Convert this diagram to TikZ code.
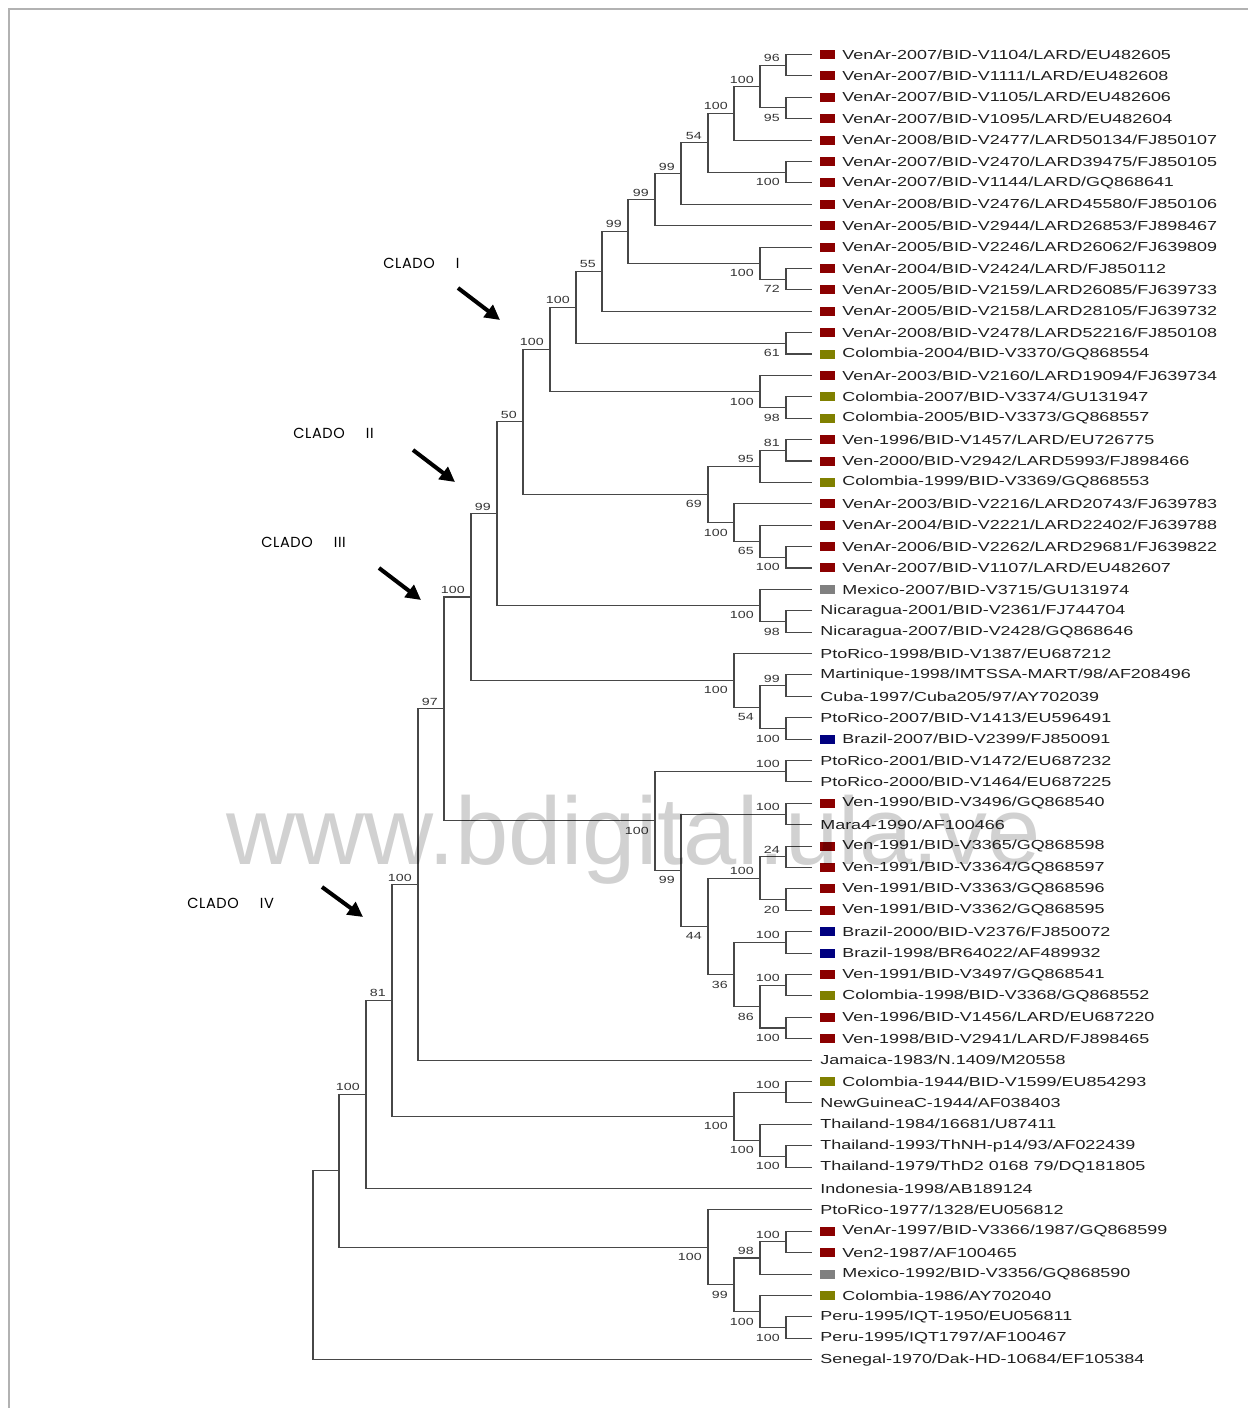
\documentclass[tikz,border=0pt]{standalone}
\usepackage{fontspec}
\setmainfont{Liberation Sans}
\newfontfamily\widesans[FakeStretch=1.37]{Liberation Sans}
\newfontfamily\cladofont[LetterSpace=4]{Poppins}
\usetikzlibrary{arrows.meta}
\definecolor{venred}{RGB}{139,0,0}
\definecolor{cololive}{RGB}{128,128,0}
\definecolor{mexgray}{RGB}{128,128,128}
\definecolor{brablue}{RGB}{0,0,128}
\newcommand{\leaffont}{\widesans\fontsize{7.45}{9}\selectfont}
\newcommand{\bootfont}{\widesans\fontsize{5.9}{7}\selectfont}

\begin{document}
\begin{tikzpicture}[
  x=0.02cm, y=-0.02cm,
  branch/.style={draw=black!72,line width=0.6pt},
  bootup/.style={anchor=east,xshift=-0.12cm,yshift=0.14cm,font=\bootfont,text=black!80,inner sep=0pt},
  bootdn/.style={anchor=east,xshift=-0.12cm,yshift=-0.2cm,font=\bootfont,text=black!80,inner sep=0pt},
  taxon/.style={anchor=west,font=\leaffont,text=black!88,inner sep=0pt},
  sq r/.style={fill=venred}, sq o/.style={fill=cololive},
  sq g/.style={fill=mexgray}, sq b/.style={fill=brablue}, sq n/.style={},
  tx r/.style={xshift=0.6cm}, tx o/.style={xshift=0.6cm},
  tx g/.style={xshift=0.6cm}, tx b/.style={xshift=0.6cm}, tx n/.style={xshift=0.16cm},
  clado/.style={anchor=west,font=\cladofont\fontsize{8.3}{10}\selectfont,inner sep=0pt},
  pointer/.style={-{Triangle[length=0.3cm,width=0.3cm]},line width=2.3pt}
]
\useasboundingbox (0,0) rectangle (1248,1408);
\draw[black!30,line width=1.4pt] (9,1408) -- (9,9) -- (1248,9);

\begin{scope}[y=-0.428cm,yshift=-0.662cm]
% taxa
\foreach \t/\c [count=\i] in {
  {VenAr-2007/BID-V1104/LARD/EU482605}/r,
  {VenAr-2007/BID-V1111/LARD/EU482608}/r,
  {VenAr-2007/BID-V1105/LARD/EU482606}/r,
  {VenAr-2007/BID-V1095/LARD/EU482604}/r,
  {VenAr-2008/BID-V2477/LARD50134/FJ850107}/r,
  {VenAr-2007/BID-V2470/LARD39475/FJ850105}/r,
  {VenAr-2007/BID-V1144/LARD/GQ868641}/r,
  {VenAr-2008/BID-V2476/LARD45580/FJ850106}/r,
  {VenAr-2005/BID-V2944/LARD26853/FJ898467}/r,
  {VenAr-2005/BID-V2246/LARD26062/FJ639809}/r,
  {VenAr-2004/BID-V2424/LARD/FJ850112}/r,
  {VenAr-2005/BID-V2159/LARD26085/FJ639733}/r,
  {VenAr-2005/BID-V2158/LARD28105/FJ639732}/r,
  {VenAr-2008/BID-V2478/LARD52216/FJ850108}/r,
  {Colombia-2004/BID-V3370/GQ868554}/o,
  {VenAr-2003/BID-V2160/LARD19094/FJ639734}/r,
  {Colombia-2007/BID-V3374/GU131947}/o,
  {Colombia-2005/BID-V3373/GQ868557}/o,
  {Ven-1996/BID-V1457/LARD/EU726775}/r,
  {Ven-2000/BID-V2942/LARD5993/FJ898466}/r,
  {Colombia-1999/BID-V3369/GQ868553}/o,
  {VenAr-2003/BID-V2216/LARD20743/FJ639783}/r,
  {VenAr-2004/BID-V2221/LARD22402/FJ639788}/r,
  {VenAr-2006/BID-V2262/LARD29681/FJ639822}/r,
  {VenAr-2007/BID-V1107/LARD/EU482607}/r,
  {Mexico-2007/BID-V3715/GU131974}/g,
  {Nicaragua-2001/BID-V2361/FJ744704}/n,
  {Nicaragua-2007/BID-V2428/GQ868646}/n,
  {PtoRico-1998/BID-V1387/EU687212}/n,
  {Martinique-1998/IMTSSA-MART/98/AF208496}/n,
  {Cuba-1997/Cuba205/97/AY702039}/n,
  {PtoRico-2007/BID-V1413/EU596491}/n,
  {Brazil-2007/BID-V2399/FJ850091}/b,
  {PtoRico-2001/BID-V1472/EU687232}/n,
  {PtoRico-2000/BID-V1464/EU687225}/n,
  {Ven-1990/BID-V3496/GQ868540}/r,
  {Mara4-1990/AF100466}/n,
  {Ven-1991/BID-V3365/GQ868598}/r,
  {Ven-1991/BID-V3364/GQ868597}/r,
  {Ven-1991/BID-V3363/GQ868596}/r,
  {Ven-1991/BID-V3362/GQ868595}/r,
  {Brazil-2000/BID-V2376/FJ850072}/b,
  {Brazil-1998/BR64022/AF489932}/b,
  {Ven-1991/BID-V3497/GQ868541}/r,
  {Colombia-1998/BID-V3368/GQ868552}/o,
  {Ven-1996/BID-V1456/LARD/EU687220}/r,
  {Ven-1998/BID-V2941/LARD/FJ898465}/r,
  {Jamaica-1983/N.1409/M20558}/n,
  {Colombia-1944/BID-V1599/EU854293}/o,
  {NewGuineaC-1944/AF038403}/n,
  {Thailand-1984/16681/U87411}/n,
  {Thailand-1993/ThNH-p14/93/AF022439}/n,
  {Thailand-1979/ThD2 0168 79/DQ181805}/n,
  {Indonesia-1998/AB189124}/n,
  {PtoRico-1977/1328/EU056812}/n,
  {VenAr-1997/BID-V3366/1987/GQ868599}/r,
  {Ven2-1987/AF100465}/r,
  {Mexico-1992/BID-V3356/GQ868590}/g,
  {Colombia-1986/AY702040}/o,
  {Peru-1995/IQT-1950/EU056811}/n,
  {Peru-1995/IQT1797/AF100467}/n,
  {Senegal-1970/Dak-HD-10684/EF105384}/n}{
  \coordinate (L\i) at (812,\i);
  \path[sq \c] ([xshift=0.16cm,yshift=-0.09cm]L\i) rectangle ++(0.3cm,0.18cm);
  \node[taxon,tx \c] (T\i) at (L\i) {\t};
}

% clado I
\path (786,1.5) coordinate (a1) node[bootup] (s-a1) {96};
\path (786,3.5) coordinate (a2) node[bootdn] (s-a2) {95};
\path (760,2.5) coordinate (a3) node[bootup] (s-a3) {100};
\path (734,3.75) coordinate (a4) node[bootup] (s-a4) {100};
\path (786,6.5) coordinate (a5) node[bootdn] (s-a5) {100};
\path (708,5.125) coordinate (a6) node[bootup] (s-a6) {54};
\path (681,6.5625) coordinate (a7) node[bootup] (s-a7) {99};
\path (655,7.7813) coordinate (a8) node[bootup] (s-a8) {99};
\path (786,11.5) coordinate (a9) node[bootdn] (s-a9) {72};
\path (760,10.75) coordinate (a10) node[bootdn] (s-a10) {100};
\path (628,9.2656) coordinate (a11) node[bootup] (s-a11) {99};
\path (602,11.1328) coordinate (a12) node[bootup] (s-a12) {55};
\path (786,14.5) coordinate (a13) node[bootdn] (s-a13) {61};
\path (576,12.8164) coordinate (a14) node[bootup] (s-a14) {100};
\path (786,17.5) coordinate (a15) node[bootdn] (s-a15) {98};
\path (760,16.75) coordinate (a16) node[bootdn] (s-a16) {100};
\path (550,14.7832) coordinate (a17) node[bootup] (s-a17) {100};
\draw[branch] (L1) -| (a1) |- (L2);
\draw[branch] (L3) -| (a2) |- (L4);
\draw[branch] (a1) -| (a3) |- (a2);
\draw[branch] (a3) -| (a4) |- (L5);
\draw[branch] (L6) -| (a5) |- (L7);
\draw[branch] (a4) -| (a6) |- (a5);
\draw[branch] (a6) -| (a7) |- (L8);
\draw[branch] (a7) -| (a8) |- (L9);
\draw[branch] (L11) -| (a9) |- (L12);
\draw[branch] (L10) -| (a10) |- (a9);
\draw[branch] (a8) -| (a11) |- (a10);
\draw[branch] (a11) -| (a12) |- (L13);
\draw[branch] (L14) -| (a13) |- (L15);
\draw[branch] (a12) -| (a14) |- (a13);
\draw[branch] (L17) -| (a15) |- (L18);
\draw[branch] (L16) -| (a16) |- (a15);
\draw[branch] (a14) -| (a17) |- (a16);

% clado II
\path (786,19.5) coordinate (b1) node[bootup] (s-b1) {81};
\path (760,20.25) coordinate (b2) node[bootup] (s-b2) {95};
\path (786,24.5) coordinate (b3) node[bootdn] (s-b3) {100};
\path (760,23.75) coordinate (b4) node[bootdn] (s-b4) {65};
\path (734,22.875) coordinate (b5) node[bootdn] (s-b5) {100};
\path (708,21.5625) coordinate (b6) node[bootdn] (s-b6) {69};
\path (523,18.1729) coordinate (b7) node[bootup] (s-b7) {50};
\draw[branch] (L19) -| (b1) |- (L20);
\draw[branch] (b1) -| (b2) |- (L21);
\draw[branch] (L24) -| (b3) |- (L25);
\draw[branch] (L23) -| (b4) |- (b3);
\draw[branch] (L22) -| (b5) |- (b4);
\draw[branch] (b2) -| (b6) |- (b5);
\draw[branch] (a17) -| (b7) |- (b6);

\path (786,27.5) coordinate (c1) node[bootdn] (s-c1) {98};
\path (760,26.75) coordinate (c2) node[bootdn] (s-c2) {100};
\path (497,22.4614) coordinate (c3) node[bootup] (s-c3) {99};
\draw[branch] (L27) -| (c1) |- (L28);
\draw[branch] (L26) -| (c2) |- (c1);
\draw[branch] (b7) -| (c3) |- (c2);

% clado III
\path (786,30.5) coordinate (d1) node[bootup] (s-d1) {99};
\path (786,32.5) coordinate (d2) node[bootdn] (s-d2) {100};
\path (760,31.5) coordinate (d3) node[bootdn] (s-d3) {54};
\path (734,30.25) coordinate (d4) node[bootdn] (s-d4) {100};
\path (471,26.3557) coordinate (d5) node[bootup] (s-d5) {100};
\draw[branch] (L30) -| (d1) |- (L31);
\draw[branch] (L32) -| (d2) |- (L33);
\draw[branch] (d1) -| (d3) |- (d2);
\draw[branch] (L29) -| (d4) |- (d3);
\draw[branch] (c3) -| (d5) |- (d4);

\path (786,34.5) coordinate (e1) node[bootup] (s-e1) {100};
\path (786,36.5) coordinate (e2) node[bootup] (s-e2) {100};
\path (786,38.5) coordinate (e3) node[bootup] (s-e3) {24};
\path (786,40.5) coordinate (e4) node[bootdn] (s-e4) {20};
\path (760,39.5) coordinate (e5) node[bootup] (s-e5) {100};
\path (786,42.5) coordinate (e6) node[bootup] (s-e6) {100};
\path (786,44.5) coordinate (e7) node[bootup] (s-e7) {100};
\path (786,46.5) coordinate (e8) node[bootdn] (s-e8) {100};
\path (760,45.5) coordinate (e9) node[bootdn] (s-e9) {86};
\path (734,44) coordinate (e10) node[bootdn] (s-e10) {36};
\path (708,41.75) coordinate (e11) node[bootdn] (s-e11) {44};
\path (681,39.125) coordinate (e12) node[bootdn] (s-e12) {99};
\path (655,36.8125) coordinate (e13) node[bootdn] (s-e13) {100};
\draw[branch] (L34) -| (e1) |- (L35);
\draw[branch] (L36) -| (e2) |- (L37);
\draw[branch] (L38) -| (e3) |- (L39);
\draw[branch] (L40) -| (e4) |- (L41);
\draw[branch] (e3) -| (e5) |- (e4);
\draw[branch] (L42) -| (e6) |- (L43);
\draw[branch] (L44) -| (e7) |- (L45);
\draw[branch] (L46) -| (e8) |- (L47);
\draw[branch] (e7) -| (e9) |- (e8);
\draw[branch] (e6) -| (e10) |- (e9);
\draw[branch] (e5) -| (e11) |- (e10);
\draw[branch] (e2) -| (e12) |- (e11);
\draw[branch] (e1) -| (e13) |- (e12);

% clado IV and outgroups
\path (444,31.5841) coordinate (f1) node[bootup] (s-f1) {97};
\path (418,39.792) coordinate (f2) node[bootup] (s-f2) {100};
\path (786,49.5) coordinate (g1) node[bootup] (s-g1) {100};
\path (786,52.5) coordinate (g2) node[bootdn] (s-g2) {100};
\path (760,51.75) coordinate (g3) node[bootdn] (s-g3) {100};
\path (734,50.625) coordinate (g4) node[bootdn] (s-g4) {100};
\path (392,45.2085) coordinate (f3) node[bootup] (s-f3) {81};
\path (366,49.604) coordinate (f4) node[bootup] (s-f4) {100};
\path (786,56.5) coordinate (h1) node[bootup] (s-h1) {100};
\path (760,57.25) coordinate (h2) node[bootup] (s-h2) {98};
\path (786,60.5) coordinate (h3) node[bootdn] (s-h3) {100};
\path (760,59.75) coordinate (h4) node[bootdn] (s-h4) {100};
\path (734,58.5) coordinate (h5) node[bootdn] (s-h5) {99};
\path (708,56.75) coordinate (h6) node[bootdn] (s-h6) {100};
\coordinate (f5) at (339,53.177);
\coordinate (root) at (313,57.5885);
\draw[branch] (d5) -| (f1) |- (e13);
\draw[branch] (f1) -| (f2) |- (L48);
\draw[branch] (L49) -| (g1) |- (L50);
\draw[branch] (L52) -| (g2) |- (L53);
\draw[branch] (L51) -| (g3) |- (g2);
\draw[branch] (g1) -| (g4) |- (g3);
\draw[branch] (f2) -| (f3) |- (g4);
\draw[branch] (f3) -| (f4) |- (L54);
\draw[branch] (L56) -| (h1) |- (L57);
\draw[branch] (h1) -| (h2) |- (L58);
\draw[branch] (L60) -| (h3) |- (L61);
\draw[branch] (L59) -| (h4) |- (h3);
\draw[branch] (h2) -| (h5) |- (h4);
\draw[branch] (L55) -| (h6) |- (h5);
\draw[branch] (f4) -| (f5) |- (h6);
\draw[branch] (f5) -| (root) |- (L62);
\end{scope}

% clade marks
\node[clado] (cl1) at (383,263) {CLADO\hspace{0.42cm}I};
\node[clado] (cl2) at (293,433) {CLADO\hspace{0.42cm}II};
\node[clado] (cl3) at (261,542) {CLADO\hspace{0.42cm}III};
\node[clado] (cl4) at (187,903) {CLADO\hspace{0.42cm}IV};
\coordinate (p1a) at (458,288); \coordinate (p1b) at (500,320);
\coordinate (p2a) at (413,450); \coordinate (p2b) at (455,482);
\coordinate (p3a) at (379,568); \coordinate (p3b) at (421,600);
\coordinate (p4a) at (322,887); \coordinate (p4b) at (363,917);
\draw[pointer] (p1a) -- (p1b);
\draw[pointer] (p2a) -- (p2b);
\draw[pointer] (p3a) -- (p3b);
\draw[pointer] (p4a) -- (p4b);

\node[anchor=base west,font=\fontsize{54.5}{60}\selectfont,text=black,text opacity=0.18,inner sep=0pt] (mark) at (226,864) {www.bdigital.ula.ve};
\end{tikzpicture}
\end{document}
